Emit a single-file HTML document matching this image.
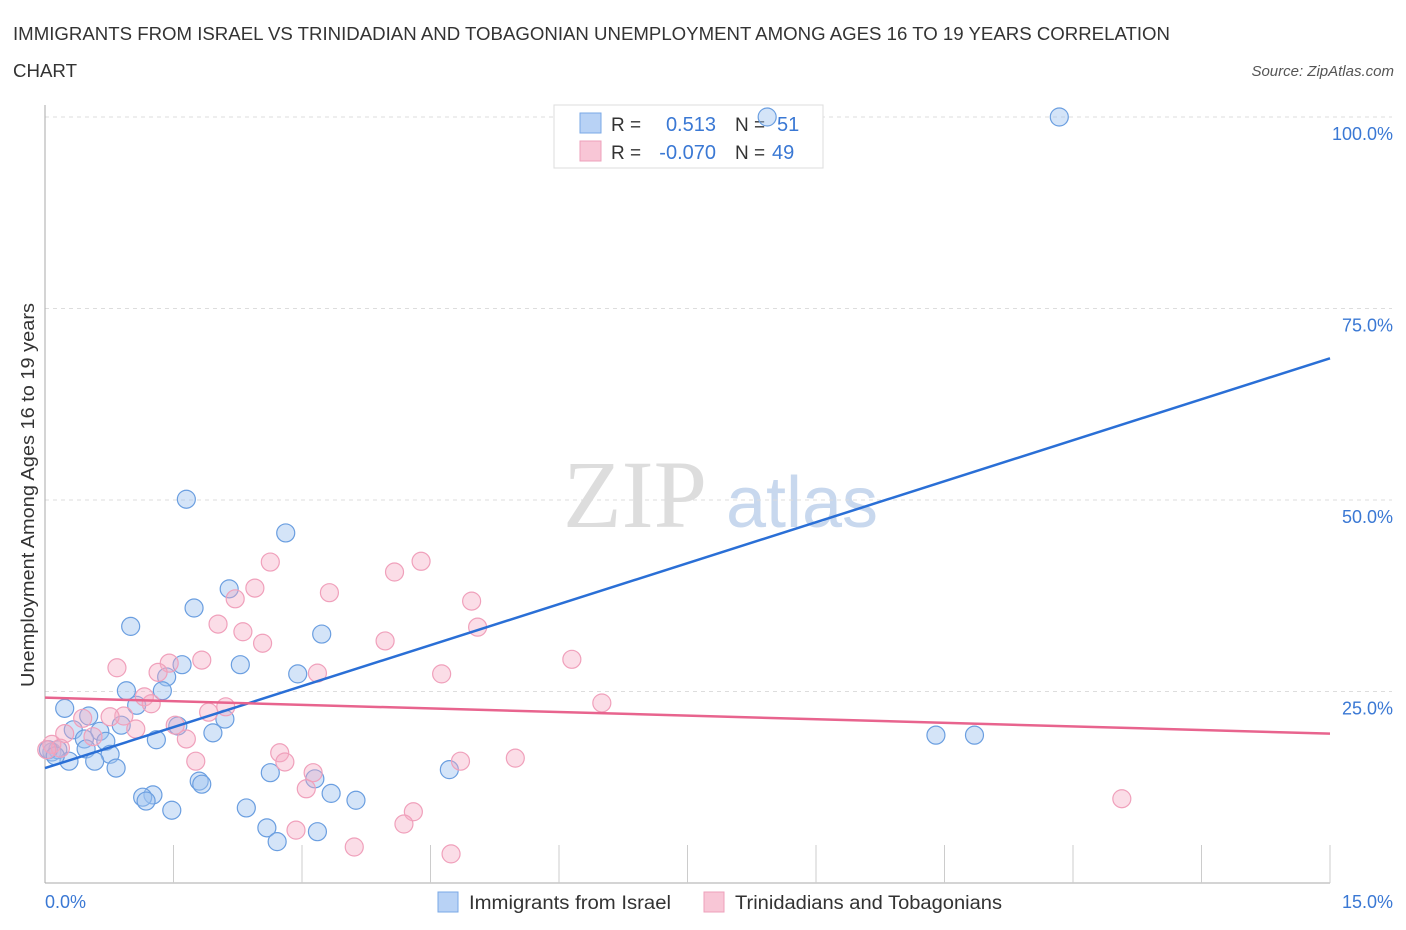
<!DOCTYPE html>
<html><head><meta charset="utf-8"><style>
body{margin:0;background:#fff;font-family:"Liberation Sans",sans-serif;}
svg{display:block}
</style></head><body>
<svg id="c" width="1406" height="930" xmlns="http://www.w3.org/2000/svg">
<text x="13" y="40" font-size="18" fill="#333" textLength="1157" lengthAdjust="spacingAndGlyphs">IMMIGRANTS FROM ISRAEL VS TRINIDADIAN AND TOBAGONIAN UNEMPLOYMENT AMONG AGES 16 TO 19 YEARS CORRELATION</text>
<text x="13" y="77" font-size="18" fill="#333" textLength="64" lengthAdjust="spacingAndGlyphs">CHART</text>
<text x="1394" y="76" font-size="15" fill="#555" font-style="italic" text-anchor="end">Source: ZipAtlas.com</text>
<text x="635" y="527" font-size="96" fill="#ddd" font-family="Liberation Serif,serif" text-anchor="middle">ZIP</text>
<text x="802" y="527" font-size="72" fill="#c8d8ee" text-anchor="middle">atlas</text>
<g id="grid"></g>
<g>
<rect x="554" y="105" width="269" height="63" fill="#fff" stroke="#ddd"/>
<rect x="580" y="113" width="21" height="20" fill="#b8d2f5" stroke="#7aa8e6"/>
<rect x="580" y="141" width="21" height="20" fill="#f8c6d6" stroke="#eea0bb"/>
<text x="611" y="131" font-size="19" fill="#333">R =</text>
<text x="716" y="131" font-size="20" fill="#3a78d4" text-anchor="end">0.513</text>
<text x="735" y="131" font-size="19" fill="#333">N =</text>
<text x="777" y="131" font-size="20" fill="#3a78d4">51</text>
<text x="611" y="159" font-size="19" fill="#333">R =</text>
<text x="716" y="159" font-size="20" fill="#3a78d4" text-anchor="end">-0.070</text>
<text x="735" y="159" font-size="19" fill="#333">N =</text>
<text x="772" y="159" font-size="20" fill="#3a78d4">49</text>
</g>
<g id="pts"></g>
<g id="lines"></g>
<text x="28" y="495" font-size="18" fill="#333" transform="rotate(-90 28 495)" text-anchor="middle" dy="6" textLength="384" lengthAdjust="spacingAndGlyphs">Unemployment Among Ages 16 to 19 years</text>
<text x="45" y="908" font-size="18" fill="#3a78d4">0.0%</text>
<text x="1393" y="908" font-size="18" fill="#3a78d4" text-anchor="end">15.0%</text>
<g>
<rect x="438" y="892" width="20" height="20" fill="#b8d2f5" stroke="#7aa8e6"/>
<text x="469" y="909" font-size="19" fill="#333" textLength="202" lengthAdjust="spacingAndGlyphs">Immigrants from Israel</text>
<rect x="704" y="892" width="20" height="20" fill="#f8c6d6" stroke="#eea0bb"/>
<text x="735" y="909" font-size="19" fill="#333" textLength="267" lengthAdjust="spacingAndGlyphs">Trinidadians and Tobagonians</text>
</g>
</svg>
<script>
const yTicks=[25,50,75,100];
const yTickLabels=["25.0%","50.0%","75.0%","100.0%"];
const blueX=[8.43,11.84,1.65,2.81,2.15,1.74,1.0,3.23,1.6,2.28,2.95,1.42,0.95,1.37,1.07,0.23,0.51,2.1,1.55,0.89,0.33,0.64,1.96,0.46,0.71,1.30,0.08,0.15,0.48,0.76,0.28,0.58,0.83,4.72,2.63,3.15,1.80,1.83,3.34,1.26,1.14,1.18,3.63,2.35,1.48,2.59,3.18,2.71,10.4,10.85,0.04,0.12];
const blueY=[100,100,50.1,45.7,38.4,35.9,33.5,32.5,28.5,28.5,27.3,26.9,25.1,25.1,23.2,22.8,21.8,21.4,20.5,20.6,20.0,19.8,19.6,18.8,18.5,18.7,17.1,17.4,17.5,16.8,15.9,15.9,15.0,14.8,14.4,13.6,13.3,12.9,11.7,11.5,11.2,10.7,10.8,9.8,9.5,7.2,6.7,5.4,19.3,19.3,17.4,16.6];
const pinkX=[2.63,4.39,4.08,2.45,3.32,2.22,4.98,2.02,5.05,2.31,3.97,2.54,6.15,1.83,0.84,1.45,1.32,3.18,4.63,1.16,1.24,6.5,2.11,0.92,0.44,0.76,1.91,1.52,1.06,0.23,0.56,1.65,0.08,0.18,2.74,2.8,1.76,4.85,5.49,3.13,3.05,4.3,4.19,2.93,3.61,4.74,12.57,0.02];
const pinkY=[41.9,42.0,40.6,38.5,37.9,37.1,36.8,33.8,33.4,32.8,31.6,31.3,29.2,29.1,28.1,28.7,27.5,27.4,27.3,24.3,23.4,23.5,23.0,21.8,21.5,21.7,22.3,20.6,20.1,19.5,19.1,18.8,18.1,17.6,17.0,15.8,15.9,15.9,16.3,14.4,12.3,9.3,7.7,6.9,4.7,3.8,11.0,17.4];
const blueTrend=[15.0,68.5];
const pinkTrend=[24.2,19.5];
const xTicks=[1.5,3,4.5,6,7.5,9,10.5,12,13.5,15];
const NS="http://www.w3.org/2000/svg";
const sx=v=>45+v/15*1285, sy=v=>883-v*7.66;
function mk(t,a,p){const e=document.createElementNS(NS,t);for(const k in a)e.setAttribute(k,a[k]);p.appendChild(e);return e;}
const g=document.getElementById('grid');
yTicks.forEach((t,i)=>{
 const l=mk('line',{x1:45,x2:1392,y1:sy(t),y2:sy(t),stroke:'#ddd','stroke-dasharray':'4,4'},g);
 
 
 const tx=mk('text',{x:1393,y:sy(t)+23,'font-size':18,fill:'#3a78d4','text-anchor':'end'},g);
 tx.textContent=yTickLabels[i];
 
 
});
const ax=mk('line',{x1:45,x2:45,y1:105,y2:883,stroke:'#aaa'},g);


const bx=mk('line',{x1:45,x2:1330,y1:883,y2:883,stroke:'#aaa'},g);


xTicks.forEach(t=>{
 const l=mk('line',{x1:sx(t),x2:sx(t),y1:845,y2:883,stroke:'#ccc'},g);
 
 
});
const p=document.getElementById('pts');
blueX.forEach((x,i)=>{
 const c=mk('circle',{cx:sx(x),cy:sy(blueY[i]),r:9,fill:'rgba(160,195,240,0.45)',stroke:'#6a9ee0','stroke-width':1.2},p);
 
 
});
pinkX.forEach((x,i)=>{
 const c=mk('circle',{cx:sx(x),cy:sy(pinkY[i]),r:9,fill:'rgba(245,170,195,0.4)',stroke:'#f0a0bb','stroke-width':1.2},p);
 
 
});
const L=document.getElementById('lines');
const b=mk('line',{x1:sx(0),y1:sy(blueTrend[0]),x2:sx(15),y2:sy(blueTrend[1]),stroke:'#2a6fd6','stroke-width':2.5},L);


const q=mk('line',{x1:sx(0),y1:sy(pinkTrend[0]),x2:sx(15),y2:sy(pinkTrend[1]),stroke:'#e8648e','stroke-width':2.5},L);


</script>
</body></html>
